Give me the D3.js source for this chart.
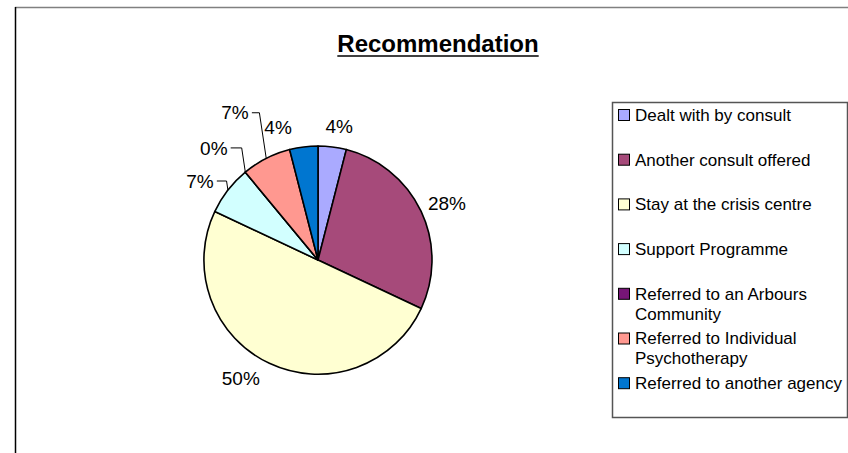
<!DOCTYPE html>
<html>
<head>
<meta charset="utf-8">
<script src="https://cdn.jsdelivr.net/npm/d3@7"></script>
<style>
    body { margin: 0; background: #fff; }
    svg { display: block; font-family: "Liberation Sans", Arial, sans-serif; }
</style>
</head>
<body>
<div id="d3PieChart"></div>
<script>
const _WIDTH = 848
const _HEIGHT = 453
const _PIE = { cx: 318, cy: 260, r: 114 }
const _LEGEND = { x: 612, y: 102, width: 235, height: 315, rowStart: 115, rowStep: 44.7 }

// Data
// ===================================
const categories = [
    "Dealt with by consult",
    "Another consult offered",
    "Stay at the crisis centre",
    "Support Programme",
    "Referred to an Arbours Community",
    "Referred to Individual Psychotherapy",
    "Referred to another agency",
]
const shares = [4, 28, 50, 7, 0, 7, 4]
const shareLabels = ["4%", "28%", "50%", "7%", "0%", "7%", "4%"]
const colours = ["#aaaaff", "#a64a7a", "#ffffd2", "#d2ffff", "#771577", "#ff9890", "#0076d0"]

// label placement: [extra radius, angle nudge in degrees, leader line]
const labelLayout = [
    [21, 1.8, false],
    [27, 1.4, false],
    [27, 8, false],
    [28, -4, true],
    [39, -3.3, true],
    [55, -2.4, true],
    [25, -9.5, false],
]

const polar = (radius, angle) => [
    _PIE.cx + radius * Math.sin(angle),
    _PIE.cy - radius * Math.cos(angle),
]

const svg = d3
    .select("#d3PieChart")
    .append("svg")
    .attr("width", _WIDTH)
    .attr("height", _HEIGHT)

//  Chart frame
// ===================================
svg.append("line")
    .attr("x1", 15).attr("x2", _WIDTH)
    .attr("y1", 7.5).attr("y2", 7.5)
    .attr("stroke", "#808080")
    .attr("stroke-width", 1.5)
svg.append("line")
    .attr("x1", 15.5).attr("x2", 15.5)
    .attr("y1", 7).attr("y2", _HEIGHT)
    .attr("stroke", "#000")
    .attr("stroke-width", 1.5)

//  Title
// ===================================
const title = svg.append("text")
    .attr("x", 438)
    .attr("y", 52)
    .attr("text-anchor", "middle")
    .attr("font-size", 24)
    .attr("font-weight", "bold")
    .text("Recommendation")
const tb = title.node().getBBox()
svg.append("line")
    .attr("x1", tb.x).attr("x2", tb.x + tb.width)
    .attr("y1", 56).attr("y2", 56)
    .attr("stroke", "#000")
    .attr("stroke-width", 1.6)

//  Pie
// ===================================
const pie = d3.pie().sort(null).value(d => d)
const arcs = pie(shares)
const arc = d3.arc().innerRadius(0).outerRadius(_PIE.r)

svg.append("g")
    .attr("transform", `translate(${_PIE.cx},${_PIE.cy})`)
    .selectAll("path")
    .data(arcs)
    .join("path")
    .attr("d", arc)
    .attr("fill", (d, i) => colours[i])
    .attr("stroke", "#000")
    .attr("stroke-width", 1.6)
    .attr("stroke-linejoin", "round")

//  Data labels
// ===================================
const labels = svg.append("g").attr("font-size", 19)
arcs.forEach((d, i) => {
    const mid = (d.startAngle + d.endAngle) / 2
    const [extra, nudge, leader] = labelLayout[i]
    const [lx, ly] = polar(_PIE.r + extra, mid + nudge * Math.PI / 180)
    const t = labels.append("text")
        .attr("x", lx)
        .attr("y", ly)
        .attr("dy", "0.35em")
        .attr("text-anchor", "middle")
        .attr("fill", "#000")
        .text(shareLabels[i])
    if (leader) {
        const b = t.node().getBBox()
        const edge = polar(_PIE.r, mid)
        const elbow = [edge[0] - 0.15 * (edge[1] - ly), ly]
        labels.append("polyline")
            .attr("points", [[b.x + b.width + 3, ly], elbow, edge].map(p => p.join(",")).join(" "))
            .attr("fill", "none")
            .attr("stroke", "#000")
            .attr("stroke-width", 1)
    }
})

//  Legend
// ===================================
const legend = svg.append("g").attr("font-size", 17)
legend.append("rect")
    .attr("x", _LEGEND.x + 0.5)
    .attr("y", _LEGEND.y + 0.5)
    .attr("width", _LEGEND.width)
    .attr("height", _LEGEND.height)
    .attr("fill", "#fff")
    .attr("stroke", "#555")
    .attr("stroke-width", 1.5)

const maxTextWidth = _LEGEND.x + _LEGEND.width - 635 - 1
categories.forEach((name, i) => {
    const cy = _LEGEND.rowStart + i * _LEGEND.rowStep
    legend.append("rect")
        .attr("x", 618.5)
        .attr("y", cy - 5.5)
        .attr("width", 11)
        .attr("height", 11)
        .attr("fill", colours[i])
        .attr("stroke", "#000")
        .attr("stroke-width", 1)
    const text = legend.append("text")
        .attr("x", 635)
        .attr("y", cy)
        .attr("dy", "0.35em")
    // wrap words into lines that fit the legend box
    const words = name.split(" ")
    let line = []
    let tspan = text.append("tspan").attr("x", 635)
    let lineNo = 0
    words.forEach(w => {
        line.push(w)
        tspan.text(line.join(" "))
        if (tspan.node().getComputedTextLength() > maxTextWidth && line.length > 1) {
            line.pop()
            tspan.text(line.join(" "))
            line = [w]
            lineNo++
            tspan = text.append("tspan").attr("x", 635).attr("dy", "20px").text(w)
        }
    })
})
</script>
</body>
</html>
